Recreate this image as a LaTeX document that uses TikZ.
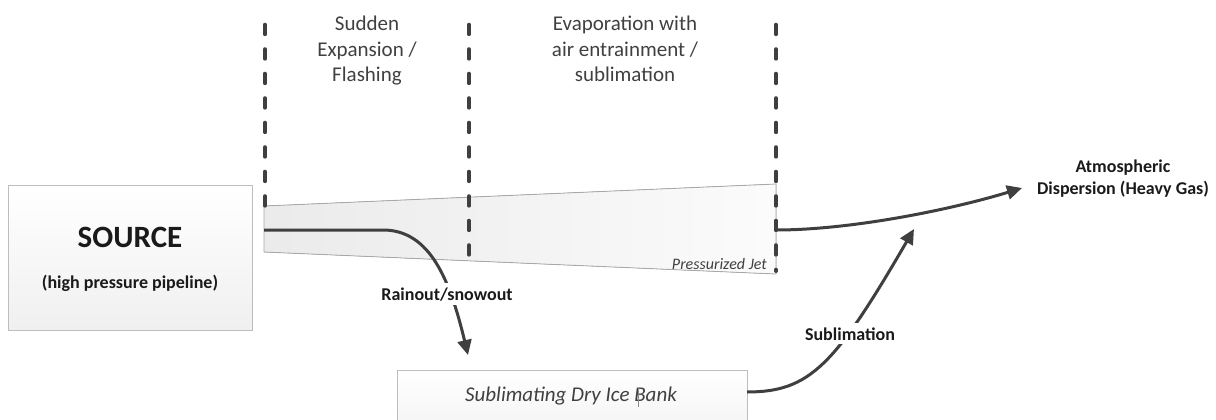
\documentclass[tikz,border=0pt]{standalone}
\usepackage{fontspec}
\setmainfont{Carlito}
\usetikzlibrary{arrows.meta}
\definecolor{flowc}{HTML}{3F3F3F}
\definecolor{hdrc}{HTML}{404040}
\definecolor{boxc}{HTML}{BDBDBD}
\definecolor{jetc}{HTML}{A8A8A8}
\definecolor{txtc}{HTML}{1A1A1A}
\begin{document}
\begin{tikzpicture}[x=1pt,y=-1pt,
  flow/.style={draw=flowc, line width=3pt},
  arr/.style={flow, -{Triangle[length=15pt,width=14pt]}},
  zone/.style={draw=flowc, line width=4pt, line cap=round, dash pattern=on 9.5pt off 15pt},
  hdr/.style={font=\fontsize{21}{25.6}\selectfont, text=hdrc, align=center, inner sep=0pt, anchor=base},
  lbl/.style={font=\fontsize{18}{21.6}\selectfont\bfseries, text=txtc, align=center, inner sep=0pt, anchor=base},
  panel/.style={draw=boxc, line width=0.8pt, top color=white, bottom color=black!6, inner sep=0pt, anchor=north west}
  ]
\useasboundingbox (0,0) rectangle (1216,420);
\clip (0,0) rectangle (1216,420);

% source box
\node[panel, minimum width=244pt, minimum height=145pt] (source) at (8,185) {};
\node[font=\fontsize{31}{37}\selectfont\bfseries, text=txtc, inner sep=0pt, anchor=base] (sourcet) at (130,247.5) {SOURCE};
\node[lbl] (sourcesub) at (130,288.5) {(high pressure pipeline)};

% dry ice bank
\node[panel, minimum width=350pt, minimum height=80pt] (ice) at (397,370) {};
\node[font=\fontsize{21}{25.6}\selectfont\itshape, text=hdrc, inner sep=0pt, anchor=base] (icet) at (571,401.5) {Sublimating Dry Ice Bank};
\draw[black!45, line width=0.6pt] (638,388) -- (638,407);

% jet
\coordinate (jtl) at (264,206);
\coordinate (jtr) at (776,184);
\coordinate (jbr) at (776,274);
\coordinate (jbl) at (264,252);
\filldraw[draw=jetc, line width=0.8pt, left color=black!8, right color=black!1.5] (jtl) -- (jtr) -- (jbr) -- (jbl) -- cycle;
\node[font=\fontsize{16}{19.5}\selectfont\itshape, text=hdrc, inner sep=0pt, anchor=base east] (jett) at (767,269) {Pressurized Jet};

% zone boundaries
\coordinate (z1t) at (265,24.7);
\coordinate (z1b) at (265,206);
\coordinate (z2t) at (469,24.7);
\coordinate (z2b) at (469,259);
\coordinate (z3t) at (776,24.7);
\coordinate (z3b) at (776,271);
\draw[zone] (z1t) -- (z1b);
\draw[zone] (z2t) -- (z2b);
\draw[zone] (z3t) -- (z3b);

% headers (base = baseline of last line)
\node[hdr] (h1) at (367,81.7) {Sudden\\Expansion /\\Flashing};
\node[hdr] (h2) at (625,81.7) {Evaporation with\\air entrainment /\\sublimation};

% flows
\coordinate (fin) at (264,230);
\coordinate (fbend) at (383,230);
\coordinate (rainend) at (468,355);
\draw[arr] (fin) -- (fbend) .. controls (430,230) and (450,280) .. (rainend);
\node[lbl, fill=white, inner xsep=2pt, inner ysep=4pt] (rain) at (447,300) {Rainout/snowout};

\coordinate (fout) at (776,230);
\coordinate (atmend) at (1022,188);
\draw[arr] (fout) .. controls (850,230) and (950,210) .. (atmend);
\node[lbl] (atm) at (1123,194.3) {Atmospheric\\Dispersion (Heavy Gas)};

\coordinate (icestart) at (747,392);
\coordinate (subend) at (914,229);
\draw[arr] (icestart) .. controls (810,392) and (835,365) .. (subend);
\node[lbl, fill=white, inner xsep=2pt, inner ysep=4pt] (subl) at (850,340) {Sublimation};
\end{tikzpicture}
\end{document}
